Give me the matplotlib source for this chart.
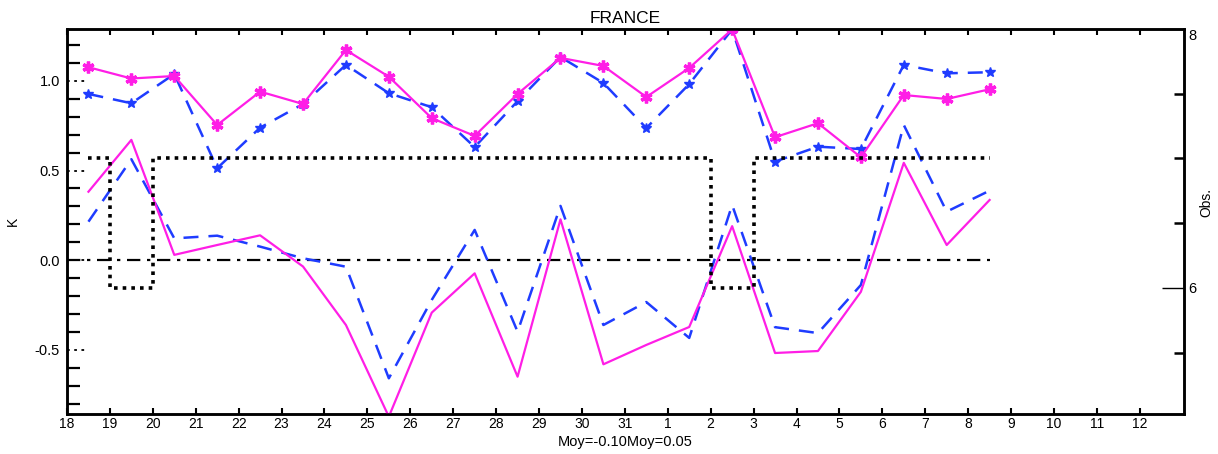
import numpy as np
import matplotlib
matplotlib.use("Agg")
import matplotlib.pyplot as plt
from matplotlib.transforms import blended_transform_factory

plt.rcParams["font.family"] = ["Liberation Sans", "DejaVu Sans"]

# days shown on the x axis (18 Jan .. 12 Feb), values sit at mid-day
day_labels = list(range(18, 32)) + list(range(1, 13))

# upper pair (with markers)
model_a_top = [1.076, 1.013, 1.027, 0.754, 0.940, 0.871, 1.172, 1.023, 0.792, 0.693, 0.927,
               1.128, 1.083, 0.910, 1.072, 1.287, 0.686, 0.764, 0.574, 0.921, 0.899, 0.953]
model_b_top = [0.927, 0.875, 1.038, 0.513, 0.739, 0.871, 1.089, 0.931, 0.853, 0.631, 0.887,
               1.133, 0.988, 0.737, 0.982, 1.287, 0.550, 0.633, 0.620, 1.089, 1.042, 1.048]
# lower pair (no markers)
model_a_bias = [0.382, 0.671, 0.030, 0.085, 0.139, -0.035, -0.361, -0.872, -0.292, -0.073, -0.649,
                0.228, -0.580, -0.472, -0.372, 0.190, -0.517, -0.506, -0.176, 0.543, 0.085, 0.336]
model_b_bias = [0.215, 0.563, 0.122, 0.137, 0.076, 0.011, -0.036, -0.658, -0.221, 0.169, -0.398,
                0.303, -0.361, -0.233, -0.433, 0.308, -0.373, -0.406, -0.138, 0.754, 0.271, 0.388]
# number of observations (right axis)
n_obs = [7, 6, 7, 7, 7, 7, 7, 7, 7, 7, 7, 7, 7, 7, 7, 6, 7, 7, 7, 7, 7, 7]

x = np.arange(len(model_a_top)) + 0.5
MAGENTA = "#ff1ee6"
BLUE = "#1f3cff"

fig = plt.figure(figsize=(12.18, 4.54), dpi=100)
ax = fig.add_axes([67 / 1218, 40 / 454, 1117 / 1218, 385 / 454])

ax.plot(x, model_a_top, color=MAGENTA, lw=1.6, marker=(6, 2, 0), ms=8.5, mew=2.4, zorder=4)
ax.plot(x, model_b_top, color=BLUE, lw=1.8, ls=(0, (6, 4)), marker="*", ms=7,
        mew=1.0, zorder=3)
ax.plot(x, model_a_bias, color=MAGENTA, lw=1.6, zorder=4)
ax.plot(x, model_b_bias, color=BLUE, lw=1.8, ls=(0, (6, 4)), zorder=3)
ax.hlines(0, 0, x[-1], color="black", lw=1.6, ls=(0, (6, 3, 1.5, 3)), zorder=2)

ax.set_xlim(0, 26.03)
ax.set_ylim(-0.857, 1.289)
ax.set_xticks(np.arange(len(day_labels)))
ax.set_xticklabels([str(d) for d in day_labels])
ax.tick_params(axis="x", which="major", direction="in", top=True, length=4, width=1.5,
               labelsize=10, pad=2)

# left axis: dotted major ticks drawn by hand, solid minor ticks
yticks = [-0.5, 0.0, 0.5, 1.0]
ax.set_yticks(yticks)
ax.set_yticklabels(["-0.5", "0.0", "0.5", "1.0"])
ax.set_yticks([v / 10 for v in range(-8, 13) if v % 5 != 0], minor=True)
ax.tick_params(axis="y", which="major", length=0, labelsize=10.5, pad=5)
ax.tick_params(axis="y", which="minor", direction="in", length=9, width=1.6)
tr = blended_transform_factory(ax.transAxes, ax.transData)
for v in yticks:
    ax.plot([0, 0.019], [v, v], transform=tr, color="black", lw=1.3, ls=(0, (1.5, 2.5)),
            clip_on=False)
ax.set_ylabel("K", fontsize=10)
ax.yaxis.set_label_coords(-0.042, 0.5)

for s in ax.spines.values():
    s.set_linewidth(1.8)

ax2 = ax.twinx()
ax2.step(x, n_obs, where="mid", color="black", lw=2.6, ls=(0, (1, 1.4)))
ax2.set_ylim(5.027, 8.0)
ax2.set_yticks([6, 8])
ax2.set_yticklabels(["6", "8"])
ax2.set_yticks([5.5, 6.5, 7.0, 7.5], minor=True)
ax2.tick_params(axis="y", which="major", direction="in", length=16, width=1.0,
                labelsize=10.5, pad=3)
ax2.tick_params(axis="y", which="minor", direction="in", length=7, width=1.8)
ax2.get_yticklabels()[1].set_va("top")
ax2.set_ylabel("Obs.", fontsize=10)
ax2.yaxis.set_label_coords(1.0136, 0.55)
for s in ax2.spines.values():
    s.set_linewidth(1.8)

ax.set_title("FRANCE", fontsize=12.5, pad=4)
fig.text(625 / 1218, 1 - 442 / 454, "Moy=-0.10Moy=0.05", ha="center", va="center",
         fontsize=10.5)

fig.savefig("out.png", dpi=100)
